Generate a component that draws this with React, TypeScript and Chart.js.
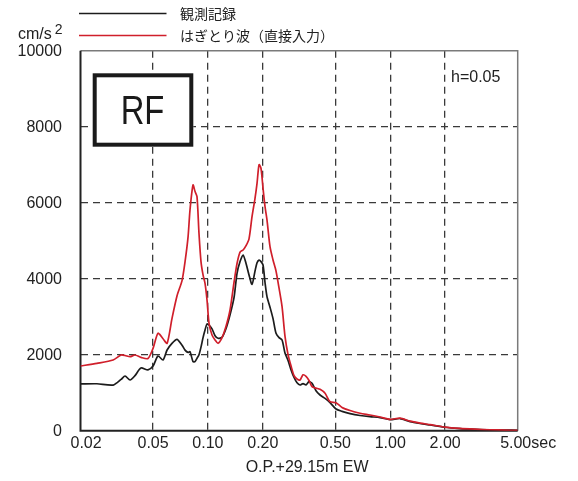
import React, { useEffect, useRef } from "react";
import { Chart, registerables } from "chart.js";

Chart.register(...registerables);

// Period (sec)
const periods = [
  0.02, 0.0246, 0.0302, 0.0334, 0.0351, 0.0374, 0.0398, 0.0429, 0.0469, 0.05,
  0.0532, 0.0567, 0.0597, 0.0635, 0.0677, 0.0721, 0.0749, 0.0778, 0.0797, 0.0828,
  0.0849, 0.0871, 0.0893, 0.0916, 0.094, 0.0964, 0.0988, 0.1014, 0.1053, 0.1094,
  0.1136, 0.1195, 0.1257, 0.1322, 0.139, 0.1444, 0.15, 0.1558, 0.1618, 0.168,
  0.1745, 0.1812, 0.1859, 0.1907, 0.1955, 0.2005, 0.2056, 0.2108, 0.219, 0.2275,
  0.2363, 0.2455, 0.255, 0.2648, 0.275, 0.2857, 0.2967, 0.3081, 0.32, 0.3323,
  0.3452, 0.3585, 0.3723, 0.3915, 0.4119, 0.4389, 0.4674, 0.5042, 0.5439, 0.6018,
  0.6829, 0.7746, 0.8791, 0.9972, 1.131, 1.284, 1.457, 1.653, 1.998, 2.414,
  2.918, 3.526, 4.263, 5.0,
];

// 観測記録 (cm/s2)
const observed = [
  1230, 1235, 1200, 1350, 1440, 1334, 1450, 1650, 1600, 1700,
  1966, 1861, 2124, 2300, 2405, 2250, 2120, 2060, 2079, 1820,
  1816, 1905, 2000, 2200, 2450, 2650, 2808, 2780, 2680, 2500,
  2432, 2460, 2690, 3050, 3500, 4142, 4450, 4624, 4400, 4100,
  3850, 4200, 4420, 4490, 4450, 4360, 3900, 3530, 3250, 2950,
  2563, 2450, 2387, 2037, 1850, 1600, 1400, 1260, 1203, 1240,
  1203, 1290, 1250, 1050, 939, 850, 740, 570, 510, 450,
  400, 368, 345, 290, 320, 240, 190, 150, 90, 55,
  35, 20, 15, 10,
];

// はぎとり波（直接入力） (cm/s2)
const stripped = [
  1703, 1773, 1861, 1992, 1980, 1947, 1992, 1931, 1900, 2168,
  2563, 2420, 2300, 2950, 3550, 3950, 4447, 5100, 5800, 6466,
  6300, 6158, 5195, 4450, 4100, 3879, 3450, 2826, 2518, 2387,
  2300, 2450, 2750, 3176, 3900, 4400, 4700, 4755, 4870, 5050,
  5632, 6116, 6511, 7000, 6900, 6379, 5900, 5550, 4842, 4492,
  4200, 3750, 3263, 2474, 2000, 1700, 1450, 1360, 1334, 1470,
  1430, 1320, 1160, 1120, 1089, 984, 763, 737, 610, 530,
  460, 413, 360, 300, 330, 250, 200, 160, 95, 60,
  40, 25, 15, 10,
];

const xTicks = [0.02, 0.05, 0.1, 0.2, 0.5, 1, 2, 5];
const xTickLabels = ["0.02", "0.05", "0.10", "0.20", "0.50", "1.00", "2.00", "5.00"];
const yTicks = [0, 2000, 4000, 6000, 8000, 10000];
const yTickLabels = ["0", "2000", "4000", "6000", "8000", "10000"];

const seriesNames = ["観測記録", "はぎとり波（直接入力）"];
const xTitle = "O.P.+29.15m EW";
const yUnit = "cm/s";
const dampingLabel = "h=0.05";
const siteLabel = "RF";

const LATIN = "'Liberation Sans', Arial, sans-serif";
const CJK = "'Noto Sans CJK JP', 'Liberation Sans', sans-serif";
const BLACK = "#1c1c1c";
const RED = "#d01f2b";

const overlay = {
  id: "overlay",
  beforeDatasetsDraw(chart: any) {
    const { ctx, chartArea: a } = chart;
    ctx.save();
    ctx.lineCap = "butt";
    // top & right
    ctx.strokeStyle = "#7a7a7a";
    ctx.lineWidth = 1.5;
    ctx.beginPath();
    ctx.moveTo(a.left, a.top);
    ctx.lineTo(a.right, a.top);
    ctx.lineTo(a.right, a.bottom);
    ctx.stroke();
    // left & bottom
    ctx.strokeStyle = "#222";
    ctx.lineWidth = 2;
    ctx.beginPath();
    ctx.moveTo(a.left, a.top);
    ctx.lineTo(a.left, a.bottom);
    ctx.lineTo(a.right, a.bottom);
    ctx.stroke();

    // RF box
    ctx.fillStyle = "#fff";
    ctx.fillRect(92.7, 73.3, 100.6, 73.4);
    ctx.strokeStyle = "#1a1a1a";
    ctx.lineWidth = 4;
    ctx.strokeRect(94.7, 75.3, 96.6, 69.4);
    ctx.fillStyle = "#1a1a1a";
    ctx.font = `41px ${LATIN}`;
    ctx.textAlign = "center";
    ctx.textBaseline = "middle";
    ctx.translate(142.5, 112.5);
    ctx.scale(0.8, 1);
    ctx.fillText(siteLabel, 0, 0);
    ctx.restore();
  },
  afterDraw(chart: any) {
    const { ctx, chartArea: a } = chart;
    const xs = chart.scales.x;
    const ys = chart.scales.y;
    ctx.save();
    ctx.fillStyle = "#222";
    ctx.font = `16px ${LATIN}`;
    ctx.textBaseline = "middle";

    // y tick labels
    ctx.textAlign = "right";
    yTicks.forEach((v, i) => {
      ctx.fillText(yTickLabels[i], 62, ys.getPixelForValue(v) + 1);
    });

    // x tick labels
    xTicks.forEach((v, i) => {
      const px = xs.getPixelForValue(v);
      const label = xTickLabels[i];
      const w = ctx.measureText(label).width;
      if (i === 0) {
        ctx.textAlign = "left";
        ctx.fillText(label, px - 10, 444);
      } else if (i === xTicks.length - 1) {
        ctx.textAlign = "left";
        ctx.fillText(label + "sec", px - w / 2 - 2, 444);
      } else {
        ctx.textAlign = "center";
        ctx.fillText(label, px, 444);
      }
    });

    // x title
    ctx.textAlign = "center";
    ctx.fillText(xTitle, (a.left + a.right) / 2 + 8, 468);

    // unit
    ctx.textAlign = "left";
    ctx.fillText(yUnit, 18, 35);
    const uw = ctx.measureText(yUnit).width;
    ctx.font = `14px ${LATIN}`;
    ctx.fillText("2", 18 + uw + 3, 30);

    // damping
    ctx.font = `16px ${LATIN}`;
    ctx.fillText(dampingLabel, 451, 78);

    // legend
    ctx.lineWidth = 1.6;
    ctx.strokeStyle = BLACK;
    ctx.beginPath();
    ctx.moveTo(79, 13.5);
    ctx.lineTo(166.5, 13.5);
    ctx.stroke();
    ctx.strokeStyle = RED;
    ctx.beginPath();
    ctx.moveTo(79, 35.5);
    ctx.lineTo(166.5, 35.5);
    ctx.stroke();
    ctx.font = `14px ${CJK}`;
    ctx.fillStyle = "#222";
    ctx.fillText(seriesNames[0], 180, 14);
    ctx.fillText(seriesNames[1], 180, 35.5);
    ctx.restore();
  },
};

export default function App() {
  const ref = useRef<HTMLCanvasElement | null>(null);
  useEffect(() => {
    const canvas = ref.current;
    if (!canvas) return;
    const gridColor = (ctx: any) => {
      const t = ctx.tick;
      if (!t) return "transparent";
      const v = t.value;
      if (ctx.scale.axis === "x") return v <= 0.02 || v >= 5 ? "transparent" : "#3a3a3a";
      return v <= 0 || v >= 10000 ? "transparent" : "#3a3a3a";
    };
    const chart = new Chart(canvas, {
      type: "line",
      data: {
        datasets: [
          {
            label: seriesNames[0],
            data: periods.map((p, i) => ({ x: p, y: observed[i] })),
            borderColor: BLACK,
            borderWidth: 1.7,
            pointRadius: 0,
            tension: 0.25,
            order: 2,
          },
          {
            label: seriesNames[1],
            data: periods.map((p, i) => ({ x: p, y: stripped[i] })),
            borderColor: RED,
            borderWidth: 1.7,
            pointRadius: 0,
            tension: 0.25,
            order: 1,
          },
        ],
      },
      options: {
        responsive: false,
        animation: false,
        parsing: true,
        layout: { padding: { left: 80.5, right: 60.3, top: 50.7, bottom: 50.3 } },
        plugins: { legend: { display: false }, tooltip: { enabled: false } },
        scales: {
          x: {
            type: "logarithmic",
            min: 0.02,
            max: 5,
            afterBuildTicks: (s: any) => {
              s.ticks = xTicks.map((v) => ({ value: v }));
            },
            ticks: { display: false },
            grid: { color: gridColor, lineWidth: 1.3, drawTicks: false },
            border: { display: false, dash: [7, 5] },
          },
          y: {
            type: "linear",
            min: 0,
            max: 10000,
            afterBuildTicks: (s: any) => {
              s.ticks = yTicks.map((v) => ({ value: v }));
            },
            ticks: { display: false },
            grid: { color: gridColor, lineWidth: 1.3, drawTicks: false },
            border: { display: false, dash: [7, 5] },
          },
        },
      },
      plugins: [overlay],
    });
    return () => chart.destroy();
  }, []);
  return (
    <div style={{ position: "fixed", left: 0, top: 0, width: 578, height: 481, background: "#fff" }}>
      <canvas ref={ref} width={578} height={481} style={{ display: "block" }} />
    </div>
  );
}
